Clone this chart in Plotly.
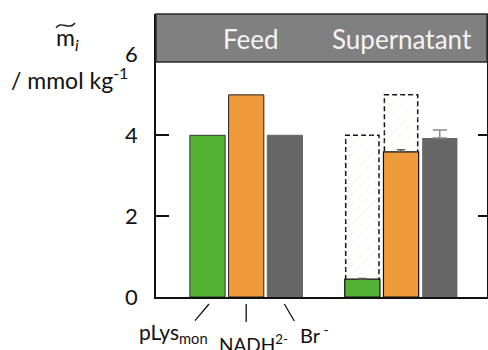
import plotly.graph_objects as go

# ---- data ----
species = ["pLys<sub>mon</sub>", "NADH<sup>2-</sup>", "Br<sup> -</sup>"]
groups = ["Feed", "Supernatant"]
feed_values = [4.0, 5.0, 4.0]
supernatant_values = [0.44, 3.59, 3.93]
supernatant_errors = [0.02, 0.05, 0.20]
reference_values = [4.0, 5.0]          # dashed "feed" outlines in supernatant group
colors = ["#53b234", "#ef9a3b", "#666666"]
y_ticks = [0, 2, 4, 6]

# ---- geometry ----
W, H = 488, 350
ML, MR, MT, MB = 156, 1, 14, 53
PW, PH = W - ML - MR, H - MT - MB
XMIN, XMAX = -1.33, 7.22
YMAX = 7.0
feed_x = [0, 1, 2]
sup_x = [4, 5, 6]
BW = 0.91

def px_x(px):
    return (px - ML) / PW

def px_y(py):
    return (H - MB - py) / PH

def dx(xval):
    return (xval - XMIN) / (XMAX - XMIN)

def xpx(xval):
    return ML + dx(xval) * PW

FONT = "Lato"

fig = go.Figure()

# feed bars
fig.add_trace(go.Bar(
    x=feed_x, y=feed_values, width=BW,
    marker=dict(color=colors, line=dict(color=["#333333", "#222222", "#666666"], width=1)),
    showlegend=False, hoverinfo="skip",
))

# dashed reference (hatched, transparent background)
fig.add_trace(go.Bar(
    x=sup_x[:2], y=reference_values, width=0.86,
    marker=dict(color="rgba(0,0,0,0)",
                line=dict(width=0),
                pattern=dict(shape="/", fgcolor="#efeadc", bgcolor="rgba(0,0,0,0)",
                             size=7, solidity=0.1, fillmode="replace")),
    showlegend=False, hoverinfo="skip",
))

# supernatant green + orange
fig.add_trace(go.Bar(
    x=sup_x[:2], y=supernatant_values[:2], width=BW,
    marker=dict(color=colors[:2], line=dict(color="#111111", width=1.2)),
    error_y=dict(type="data", array=supernatant_errors[:2], arrayminus=[0, 0],
                 color="#555555", thickness=1.5, width=4),
    showlegend=False, hoverinfo="skip",
))
# supernatant gray
fig.add_trace(go.Bar(
    x=sup_x[2:], y=supernatant_values[2:], width=BW,
    marker=dict(color=colors[2:], line=dict(color=colors[2], width=0)),
    error_y=dict(type="data", array=supernatant_errors[2:], arrayminus=[0],
                 color="#8a8a8a", thickness=1.5, width=7),
    showlegend=False, hoverinfo="skip",
))
# helper trace for right axis
fig.add_trace(go.Scatter(x=[None], y=[None], yaxis="y2", showlegend=False, hoverinfo="skip"))

shapes = []
# dashed outlines
for xv, rv in zip(sup_x[:2], reference_values):
    shapes.append(dict(type="rect", xref="x", yref="y", x0=xv - 0.43, x1=xv + 0.43,
                       y0=0, y1=rv, layer="below",
                       line=dict(color="#111111", width=1.5, dash="5px,3px"),
                       fillcolor="rgba(0,0,0,0)"))
# header band
shapes.append(dict(type="rect", xref="paper", yref="paper", x0=0, x1=1,
                   y0=px_y(62), y1=1, layer="above",
                   fillcolor="#808080", line=dict(color="#2a2a2a", width=1.5)))
# small pointer lines below the feed bars
offsets = [(-12.5, 320.7, 1.5, 304), (0, 322, 0, 304), (-0.6, 304, 9.4, 321)]
for xv, (a, ya, b, yb) in zip(feed_x, offsets):
    cx = xpx(xv)
    shapes.append(dict(type="line", xref="paper", yref="paper",
                       x0=px_x(cx + a), y0=px_y(ya), x1=px_x(cx + b), y1=px_y(yb),
                       line=dict(color="#111111", width=1.3)))
# tilde above the "m" of the axis title
tx = [px_x(v) for v in (56, 61, 69, 75)]
ty = [px_y(v) for v in (28, 20, 31, 23)]
shapes.append(dict(type="path", xref="paper", yref="paper",
                   path=f"M {tx[0]},{ty[0]} C {tx[1]},{ty[1]} {tx[2]},{ty[2]} {tx[3]},{ty[3]}",
                   line=dict(color="#111111", width=1.4)))

annotations = []
# group headers
header_cx = [xpx((feed_x[0] + feed_x[-1]) / 2) + 4.5, xpx((sup_x[0] + sup_x[-1]) / 2) + 1]
for g, cx in zip(groups, header_cx):
    annotations.append(dict(text=g, xref="paper", yref="paper",
                            x=px_x(cx), y=px_y(39), xanchor="center", yanchor="middle",
                            showarrow=False, font=dict(family=FONT, size=26, color="#f4f4f4")))
# category labels
lab_pos = [(136.7, 316.5, 21), (216.7, 328.5, 19), (298, 319, 20)]
for s, (lx, ly, fs) in zip(species, lab_pos):
    annotations.append(dict(text=s, xref="paper", yref="paper", x=px_x(lx), y=px_y(ly),
                            xanchor="left", yanchor="top", showarrow=False,
                            font=dict(family=FONT, size=fs, color="#111111")))
# y-axis title
annotations.append(dict(text="m<sub><i>i</i></sub>", xref="paper", yref="paper",
                        x=px_x(54), y=px_y(38), xanchor="left", yanchor="middle",
                        showarrow=False, font=dict(family=FONT, size=23, color="#111111")))
annotations.append(dict(text="/ mmol kg<sup>-1</sup>", xref="paper", yref="paper",
                        x=px_x(9), y=px_y(79), xanchor="left", yanchor="middle",
                        showarrow=False, font=dict(family=FONT, size=23, color="#111111")))

fig.update_layout(
    width=W, height=H,
    margin=dict(l=ML, r=MR, t=MT, b=MB, pad=0),
    paper_bgcolor="white", plot_bgcolor="white",
    barmode="overlay",
    font=dict(family=FONT, size=22, color="#111111"),
    xaxis=dict(range=[XMIN, XMAX], showticklabels=False, ticks="", showgrid=False,
               zeroline=False, showline=True, linecolor="#111111", linewidth=1.5),
    yaxis=dict(range=[0, YMAX], tickvals=y_ticks, ticks="inside", ticklen=13, tickwidth=1.5,
               tickcolor="#111111", showgrid=False, zeroline=False, showline=True,
               linecolor="#111111", linewidth=1.5, ticklabelstandoff=12,
               tickfont=dict(family=FONT, size=22, color="#111111")),
    yaxis2=dict(range=[0, YMAX], overlaying="y", side="right", anchor="x",
                tickvals=[2, 4], ticks="inside", ticklen=9, tickwidth=1.5,
                tickcolor="#111111", showticklabels=False, showgrid=False, zeroline=False,
                showline=True, linecolor="#111111", linewidth=1.5),
    shapes=shapes,
    annotations=annotations,
)

fig.write_html("out.html")
